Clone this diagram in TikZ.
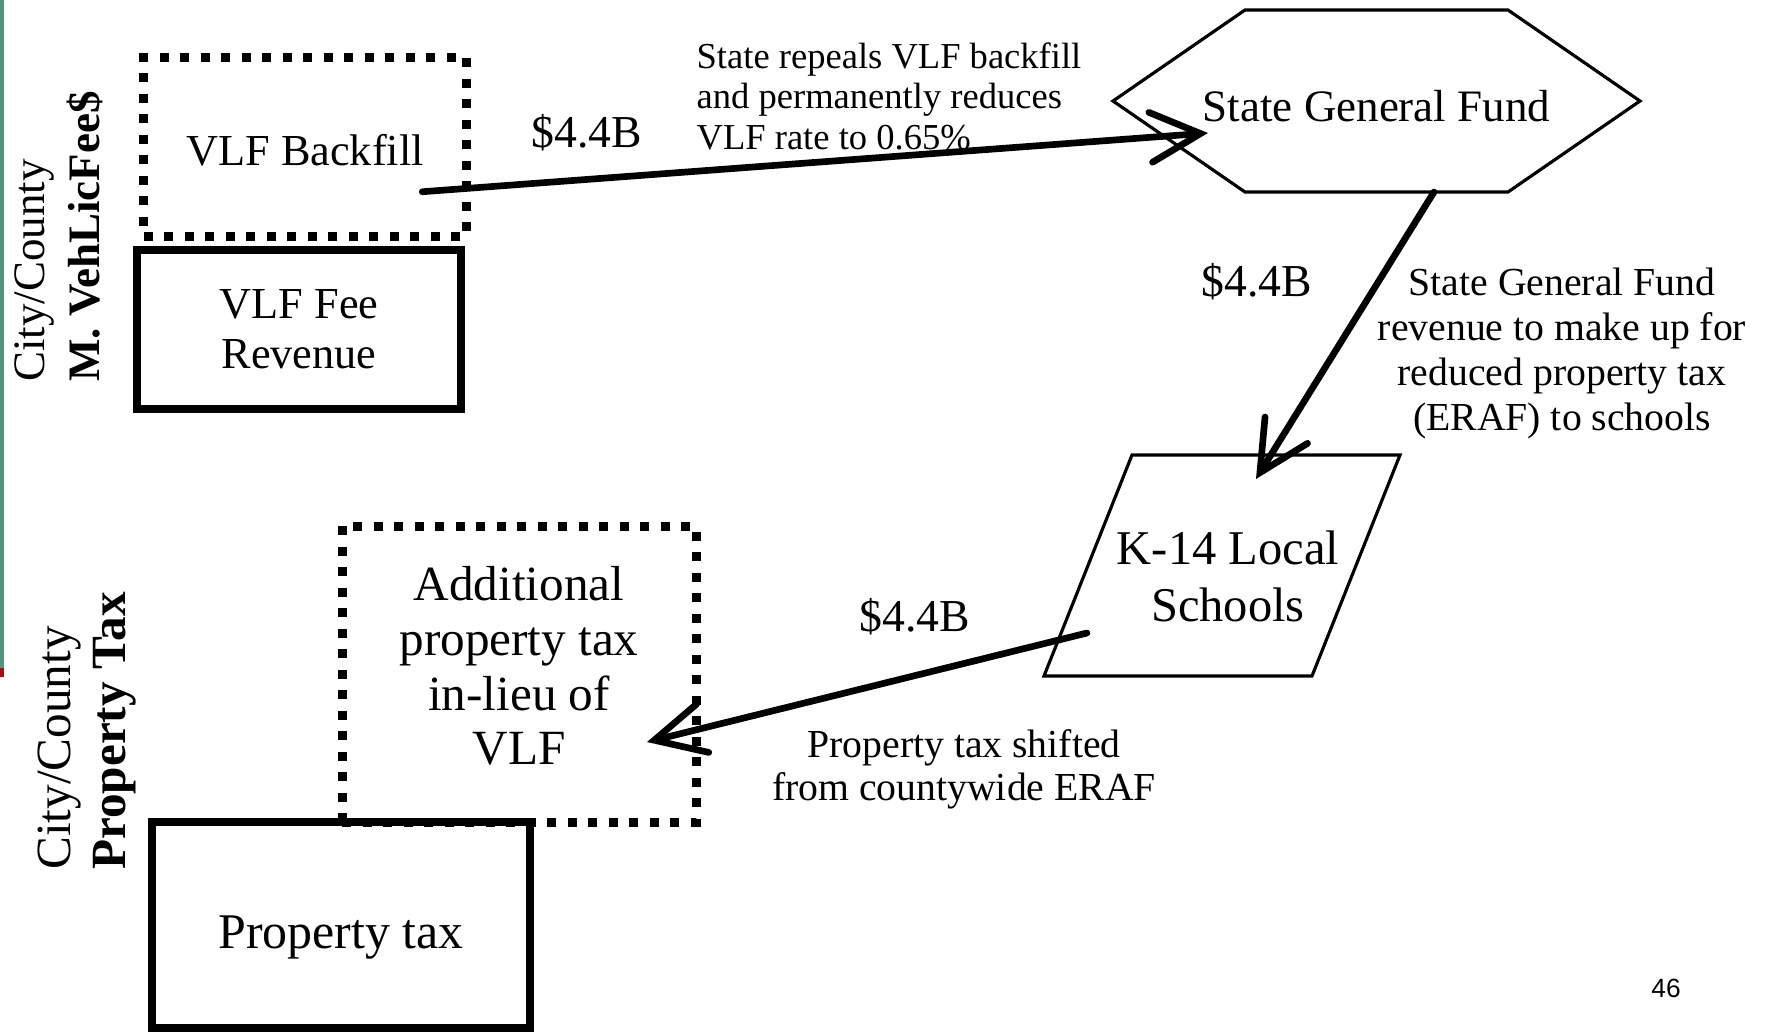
\documentclass[tikz,border=0pt]{standalone}
\usepackage{fontspec}
\setmainfont{Liberation Serif}
\newfontfamily\pagenumfont{Liberation Sans}
\usetikzlibrary{arrows.meta}
\definecolor{barteal}{RGB}{82,148,128}
\definecolor{barred}{RGB}{155,20,20}

\begin{document}
\begin{tikzpicture}[
        srcbox/.style={rectangle, draw, line width=2pt, inner sep=0pt, outer sep=0pt, align=center},
        dotbox/.style={rectangle, draw, line width=0.9mm, dash pattern=on 0.9mm off 1.15mm, inner sep=0pt, outer sep=0pt},
        thinshape/.style={line width=0.9pt, line join=miter},
        flowarrow/.style={line width=1.9pt, line cap=round, -{Straight Barb[length=5mm, width=5mm, line cap=round]}},
        amountlbl/.style={inner sep=0pt, font=\fontsize{13}{15}\selectfont},
        notelbl/.style={inner sep=0pt}
    ]
        \useasboundingbox (0,0) rectangle (17.71,-10.33);
        % slide edge
        \fill[barteal] (0,0) rectangle (0.04,-6.68);
        \fill[barred] (0,-6.68) rectangle (0.04,-6.77);

        % Vehicle licence fee side
        \node[dotbox, minimum width=3.225cm, minimum height=1.795cm] (vlfbf) at (3.05,-1.47) {};
        \node[notelbl, font=\fontsize{12.6}{14.2}\selectfont] (vlfbftxt) at ([yshift=-0.03cm]vlfbf.center) {VLF Backfill};
        \node[srcbox, minimum width=3.24cm, minimum height=1.59cm, font=\fontsize{12.6}{14.2}\selectfont] (vlffee) at (2.99,-3.295) {VLF Fee\\Revenue};
        \node[notelbl, rotate=90, align=left, font=\fontsize{12.8}{15.6}\selectfont] (side1) at (0.585,-2.365) {City/County\\\textbf{M. VehLicFee\$}};

        % Property tax side
        \node[dotbox, minimum width=3.54cm, minimum height=2.96cm] (addl) at (5.19,-6.74) {};
        \node[notelbl, align=center, font=\fontsize{14}{15.6}\selectfont] (addltxt) at ([yshift=0.08cm]addl.center) {Additional\\property tax\\in-lieu of\\VLF};
        \node[srcbox, minimum width=3.78cm, minimum height=2.06cm, text height=0.46cm, text depth=0pt, font=\fontsize{14.2}{15.6}\selectfont] (ptax) at (3.41,-9.25) {Property tax};
        \node[notelbl, rotate=90, align=left, font=\fontsize{14}{15.6}\selectfont] (side2) at (0.87,-7.31) {City/County\\\textbf{Property Tax}};

        % State and schools
        \node[minimum width=5.27cm, minimum height=1.82cm, inner sep=0pt, outer sep=0pt, text height=0.4cm, text depth=0pt, font=\fontsize{12.8}{14.5}\selectfont] (sgf) at (13.765,-1.01) {State General Fund};
        \draw[thinshape] (sgf.west) -- ([xshift=1.32cm]sgf.north west) -- ([xshift=-1.32cm]sgf.north east) -- (sgf.east)
            -- ([xshift=-1.32cm]sgf.south east) -- ([xshift=1.32cm]sgf.south west) -- cycle;
        \node[minimum width=3.56cm, minimum height=2.21cm, inner sep=0pt, outer sep=0pt] (k14) at (12.22,-5.655) {};
        \draw[thinshape] ([xshift=0.88cm]k14.north west) -- (k14.north east) -- ([xshift=-0.88cm]k14.south east) -- (k14.south west) -- cycle;
        \node[notelbl, align=center, font=\fontsize{13.8}{16}\selectfont] (k14txt) at ([shift={(0.06,-0.11)}]k14.center) {K-14 Local\\Schools};

        % Flows
        \draw[flowarrow] ([shift={(-0.44,0.45)}]vlfbf.south east) -- ([shift={(0.95,-0.32)}]sgf.west);
        \draw[flowarrow] ([xshift=0.575cm]sgf.south) -- ([shift={(0.34,-0.24)}]k14.north);
        \draw[flowarrow] ([shift={(0.43,0.43)}]k14.south west) -- ([shift={(-0.49,-0.68)}]addl.east);

        \node[amountlbl] (amt1) at (5.87,-1.33) {\$4.4B};
        \node[amountlbl] (amt2) at (12.57,-2.82) {\$4.4B};
        \node[amountlbl] (amt3) at (9.15,-6.17) {\$4.4B};

        \node[notelbl, align=left, font=\fontsize{10.4}{11.5}\selectfont] (why1) at (8.89,-0.96) {State repeals VLF backfill\\and permanently reduces\\VLF rate to 0.65\%};
        \node[notelbl, align=center, font=\fontsize{11.3}{12.8}\selectfont] (why2) at (15.62,-3.53) {State General Fund\\revenue to make up for\\reduced property tax\\(ERAF) to schools};
        \node[notelbl, align=center, font=\fontsize{11.3}{12.2}\selectfont] (why3) at (9.64,-7.69) {Property tax shifted\\from countywide ERAF};

        \node[inner sep=0pt, font=\pagenumfont\fontsize{7.5}{9}\selectfont] (pagenum) at (16.66,-9.88) {46};
    \end{tikzpicture}
\end{document}
